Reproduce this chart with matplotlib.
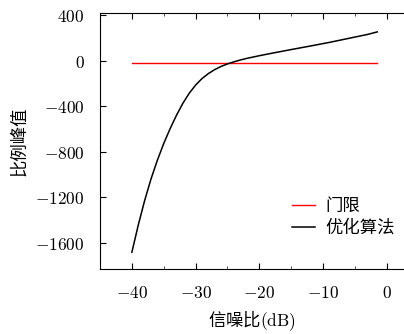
import matplotlib
matplotlib.use('Agg')
import matplotlib.pyplot as plt
from matplotlib.ticker import MultipleLocator

plt.rcParams['font.family'] = ['Noto Sans CJK SC', 'DejaVu Sans']
plt.rcParams['mathtext.fontset'] = 'cm'

snr = [-40, -39, -38, -37, -36, -35, -34, -33, -32, -31, -30, -29, -28, -27,
       -26, -25, -24, -23, -22, -20, -18, -15, -12, -9, -6, -3, -1.5]
peak = [-1683, -1445, -1230, -1040, -875, -728, -598, -480, -375, -287, -215,
        -158, -114, -79, -51, -29, -11, 5, 19, 43, 65, 97, 128, 160, 195, 230, 252]
thr_x = [-40, -1.5]
thr_y = [-25, -25]

xticks = [-40, -30, -20, -10, 0]
xtick_labels = ['$-40$', '$-30$', '$-20$', '$-10$', '$0$']
yticks = [400, 0, -400, -800, -1200, -1600]
ytick_labels = ['$400$', '$0$', '$-400$', '$-800$', '$-1200$', '$-1600$']

fig = plt.figure(figsize=(4.04, 3.34), dpi=100)
ax = fig.add_axes([100/404, 1-269/334, 1-100/404, (269-13)/334])

ax.plot(thr_x, thr_y, color='red', linewidth=1.0, label='门限')
ax.plot(snr, peak, color='black', linewidth=1.1, label='优化算法')

ax.set_xlim(-45, 2.7)
ax.set_ylim(-1830, 418)
ax.set_xticks(xticks)
ax.set_xticklabels(xtick_labels, fontsize=12.5)
ax.set_yticks(yticks)
ax.set_yticklabels(ytick_labels, fontsize=12.5)
ax.xaxis.set_minor_locator(MultipleLocator(5))
ax.tick_params(which='both', direction='in', top=True, right=False)
ax.tick_params(which='major', length=4, width=0.8)
ax.tick_params(which='minor', length=2, width=0.5)
ax.tick_params(axis='y', pad=11)
ax.tick_params(axis='x', pad=11)
ax.spines['right'].set_visible(False)

ax.set_xlabel('信噪比$(\\mathrm{dB})$', fontsize=12.5, labelpad=4)
ax.set_ylabel('比例峰值', fontsize=12.5, labelpad=5)

ax.legend(loc='lower right', bbox_to_anchor=(1.02, 0.065), frameon=False,
          fontsize=12.5, handlelength=1.3, handletextpad=0.6, labelspacing=0.2)

fig.savefig('out.png', dpi=100)
